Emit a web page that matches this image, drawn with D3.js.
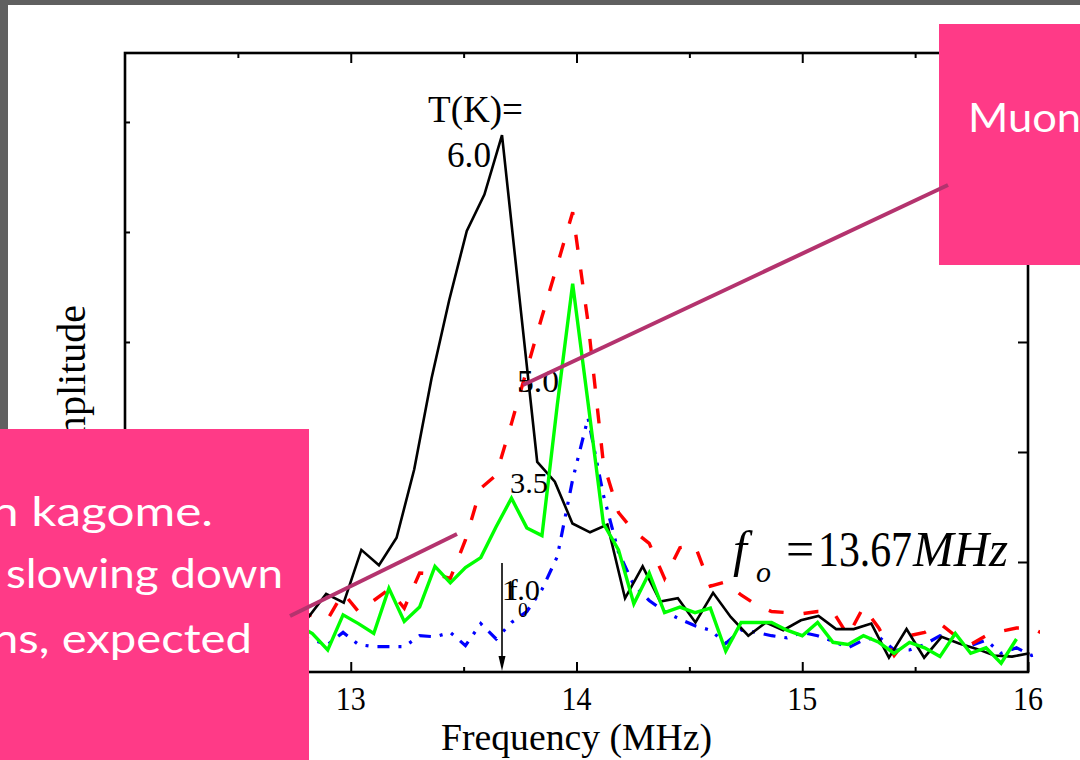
<!DOCTYPE html>
<html>
<head>
<meta charset="utf-8">
<script src="https://cdn.jsdelivr.net/npm/d3@7"></script>
<style>
  html, body { margin: 0; padding: 0; background: #ffffff; overflow: hidden; }
  svg { display: block; }
</style>
</head>
<body>
<svg id="chart" width="1080" height="760"></svg>
<script>
// Frequency grid of the T = 6.0 K spectrum (MHz)
const freqT60 = [12.735,12.813,12.891,12.969,13.047,13.125,13.203,13.281,13.358,13.436,13.514,13.592,13.670,13.748,13.826,13.904,13.982,14.060,14.137,14.215,14.293,14.371,14.449,14.527,14.605,14.683,14.761,14.839,14.916,14.994,15.072,15.150,15.228,15.306,15.384,15.462,15.540,15.617,15.695,15.773,15.851,15.929,16.007];
// Frequency grid shared by the 5.0, 3.5 and 1.0 K spectra (MHz)
const freqLow = [12.763,12.830,12.898,12.966,13.034,13.102,13.169,13.237,13.305,13.373,13.441,13.508,13.576,13.644,13.712,13.780,13.847,13.915,13.983,14.051,14.119,14.186,14.254,14.322,14.390,14.458,14.525,14.593,14.661,14.729,14.797,14.864,14.932,15.000,15.068,15.136,15.203,15.271,15.339,15.407,15.475,15.542,15.610,15.678,15.746,15.814,15.881,15.949,16.017,16.085];

// Fourier amplitudes (arb. units)
const ampT60 = [0.47,0.50,0.71,0.63,1.11,0.97,1.22,1.84,2.67,3.38,4.01,4.34,4.88,3.39,1.91,1.73,1.35,1.27,1.34,0.67,0.96,0.64,0.67,0.45,0.72,0.50,0.33,0.45,0.38,0.47,0.51,0.39,0.39,0.44,0.13,0.39,0.13,0.32,0.26,0.21,0.15,0.14,0.17];
const ampT50 = [0.55,0.51,0.48,0.72,0.55,0.65,0.75,0.58,0.90,0.89,0.85,1.20,1.67,1.79,2.26,2.75,3.23,3.70,4.18,3.18,1.90,1.45,1.28,1.17,0.85,1.13,1.15,0.78,0.82,0.70,0.61,0.55,0.54,0.53,0.55,0.55,0.33,0.59,0.40,0.15,0.33,0.36,0.44,0.33,0.25,0.33,0.37,0.40,0.40,0.33];
const ampT35 = [0.43,0.35,0.20,0.52,0.44,0.35,0.76,0.46,0.59,0.96,0.81,0.95,1.04,1.32,1.58,1.31,1.24,2.43,3.53,2.45,1.35,1.11,0.62,0.90,0.54,0.59,0.54,0.58,0.19,0.45,0.45,0.45,0.38,0.33,0.45,0.27,0.25,0.33,0.27,0.17,0.27,0.22,0.14,0.35,0.17,0.22,0.08,0.30];
const ampT10 = [0.33,0.29,0.25,0.36,0.25,0.23,0.23,0.23,0.33,0.32,0.36,0.24,0.44,0.30,0.45,0.55,0.75,1.05,1.75,2.31,1.61,1.09,0.79,0.65,0.55,0.48,0.42,0.38,0.26,0.38,0.36,0.33,0.31,0.36,0.33,0.28,0.22,0.29,0.32,0.20,0.20,0.25,0.33,0.27,0.24,0.29,0.17,0.22,0.15,0.18];

// Axis ticks
const xMajorTicks = [13, 14, 15, 16];
const xMinorTicks = [12.5, 13.5, 14.5, 15.5];
const yTicks = [1, 2, 3, 4, 5];

const f0 = 13.67;

const svg = d3.select("#chart");
const W = 1080, H = 760;
const plot = { left: 125, right: 1028, top: 53, bottom: 672 };

const x = d3.scaleLinear().domain([12, 16]).range([plot.left, plot.right]);
const y = d3.scaleLinear().domain([0, 5.627]).range([plot.bottom, plot.top]);

const serif = "'Liberation Serif', 'Times New Roman', Times, serif";
const sans = "Lato, 'Open Sans', 'DejaVu Sans', sans-serif";

// slide background
svg.append("rect").attr("width", W).attr("height", H).attr("fill", "#606060");
svg.append("rect").attr("x", 8).attr("y", 5).attr("width", W - 8).attr("height", H - 5).attr("fill", "#ffffff");

// spectra
const clip = svg.append("clipPath").attr("id", "plotclip")
  .append("rect").attr("x", plot.left).attr("y", plot.top)
  .attr("width", 1040 - plot.left).attr("height", plot.bottom - plot.top);

const g = svg.append("g").attr("clip-path", "url(#plotclip)");
const line = d3.line().x(d => x(d[0])).y(d => y(d[1]));
const pair = (fs, as) => as.map((a, i) => [fs[i], a]);

const series = [
  { f: freqLow, a: ampT10, color: "#0000ff", width: 3.2, dash: "12,9,3,9,3,9" },
  { f: freqLow, a: ampT50, color: "#ff0000", width: 3.4, dash: "15,20" },
  { f: freqT60, a: ampT60, color: "#000000", width: 2.6, dash: null },
  { f: freqLow, a: ampT35, color: "#00ff00", width: 3.4, dash: null }
];
series.forEach(s => {
  g.append("path")
    .datum(pair(s.f, s.a))
    .attr("d", line)
    .attr("fill", "none")
    .attr("stroke", s.color)
    .attr("stroke-width", s.width)
    .attr("stroke-linejoin", "miter")
    .attr("stroke-dasharray", s.dash);
});

// axes: ticks point inwards on all four sides
const axisStyle = sel => {
  sel.select(".domain").remove();
  sel.selectAll(".tick line").attr("stroke", "#000").attr("stroke-width", 2);
};
svg.append("g").attr("transform", `translate(0,${plot.bottom})`)
  .call(d3.axisBottom(x).tickValues(xMajorTicks).tickSizeInner(-10).tickSizeOuter(0).tickFormat(""))
  .call(axisStyle);
svg.append("g").attr("transform", `translate(0,${plot.bottom})`)
  .call(d3.axisBottom(x).tickValues(xMinorTicks).tickSizeInner(-5).tickSizeOuter(0).tickFormat(""))
  .call(axisStyle);
svg.append("g").attr("transform", `translate(0,${plot.top})`)
  .call(d3.axisTop(x).tickValues(xMajorTicks).tickSizeInner(-10).tickSizeOuter(0).tickFormat(""))
  .call(axisStyle);
svg.append("g").attr("transform", `translate(0,${plot.top})`)
  .call(d3.axisTop(x).tickValues(xMinorTicks).tickSizeInner(-5).tickSizeOuter(0).tickFormat(""))
  .call(axisStyle);
svg.append("g").attr("transform", `translate(${plot.left},0)`)
  .call(d3.axisLeft(y).tickValues(yTicks).tickSizeInner(-5).tickSizeOuter(0).tickFormat(""))
  .call(axisStyle);
svg.append("g").attr("transform", `translate(${plot.right},0)`)
  .call(d3.axisRight(y).tickValues(yTicks).tickSizeInner(-10).tickSizeOuter(0).tickFormat(""))
  .call(axisStyle);

// frame
svg.append("rect")
  .attr("x", plot.left).attr("y", plot.top)
  .attr("width", plot.right - plot.left).attr("height", plot.bottom - plot.top)
  .attr("fill", "none").attr("stroke", "#000").attr("stroke-width", 2.6);

// tick labels
svg.append("g").selectAll("text").data(xMajorTicks).join("text")
  .attr("x", d => x(d)).attr("y", 710)
  .attr("text-anchor", "middle")
  .attr("font-family", serif).attr("font-size", 30)
  .attr("transform", d => `translate(0,710) scale(1,1.1) translate(0,-710)`)
  .text(d => d3.format("d")(d));

// axis titles
svg.append("text")
  .attr("x", 441).attr("y", 750)
  .attr("font-family", serif).attr("font-size", 37)
  .attr("textLength", 271).attr("lengthAdjust", "spacingAndGlyphs")
  .text("Frequency (MHz)");
svg.append("text")
  .attr("transform", "translate(85,305) rotate(-90)")
  .attr("text-anchor", "end")
  .attr("font-family", serif).attr("font-size", 40)
  .text("Amplitude");

// temperature labels
const txt = (t, xx, yy, size, len, extra) => {
  const e = svg.append("text").attr("x", xx).attr("y", yy)
    .attr("font-family", serif).attr("font-size", size).text(t);
  if (len) e.attr("textLength", len).attr("lengthAdjust", "spacingAndGlyphs");
  if (extra) extra(e);
  return e;
};
txt("T(K)=", 428, 122, 37, 95);
txt("6.0", 447, 167, 36, 44);
txt("5.0", 517, 392, 31, 42);
txt("3.5", 510, 493, 29, 38);
txt("1.0", 502, 600, 29, 38);

// f0 marker
const xf0 = x(f0);
svg.append("line").attr("x1", xf0).attr("x2", xf0).attr("y1", 563).attr("y2", plot.bottom - 12)
  .attr("stroke", "#000").attr("stroke-width", 1.6);
svg.append("path")
  .attr("d", `M${xf0 - 3.5},${plot.bottom - 16} L${xf0 + 3.5},${plot.bottom - 16} L${xf0},${plot.bottom - 1} Z`)
  .attr("fill", "#000");
txt("f", 508, 600, 29, null);
txt("0", 518, 617, 20, null);

// resonance frequency equation
const eq = svg.append("text").attr("font-family", serif).attr("font-size", 50).attr("y", 566);
eq.append("tspan").attr("x", 733).attr("font-style", "italic").text("f");
eq.append("tspan").attr("x", 756).attr("y", 582).attr("font-style", "italic").attr("font-size", 30).text("o");
eq.append("tspan").attr("x", 786).attr("y", 566).text("=");
svg.append("text").attr("x", 818).attr("y", 566).attr("font-family", serif).attr("font-size", 50)
  .attr("textLength", 94).attr("lengthAdjust", "spacingAndGlyphs").text("13.67");
svg.append("text").attr("x", 913).attr("y", 566).attr("font-family", serif).attr("font-size", 50)
  .attr("font-style", "italic")
  .attr("textLength", 95).attr("lengthAdjust", "spacingAndGlyphs").text("MHz");

// callout boxes
const pink = "#ff3a87";
svg.append("rect").attr("x", 939).attr("y", 24).attr("width", W - 939).attr("height", 241).attr("fill", pink);
svg.append("rect").attr("x", 0).attr("y", 429).attr("width", 309).attr("height", H - 429).attr("fill", pink);

const boxText = (t, xx, yy, len) => svg.append("text")
  .attr("x", xx).attr("y", yy).attr("fill", "#ffffff")
  .attr("font-family", sans).attr("font-size", 41)
  .attr("textLength", len).attr("lengthAdjust", "spacingAndGlyphs")
  .text(t);
boxText("Muon", 968, 132, 113);
boxText("n kagome.", -9, 526, 222);
boxText("slowing down", 6, 588, 277);
boxText("ns, expected", -8, 653, 260);

// pointer lines
const pointer = "#b4336e";
[[290, 616, 457, 534], [523, 385, 948, 185]].forEach(([x1, y1, x2, y2]) => {
  svg.append("line").attr("x1", x1).attr("y1", y1).attr("x2", x2).attr("y2", y2)
    .attr("stroke", pointer).attr("stroke-width", 4);
});
</script>
</body>
</html>
